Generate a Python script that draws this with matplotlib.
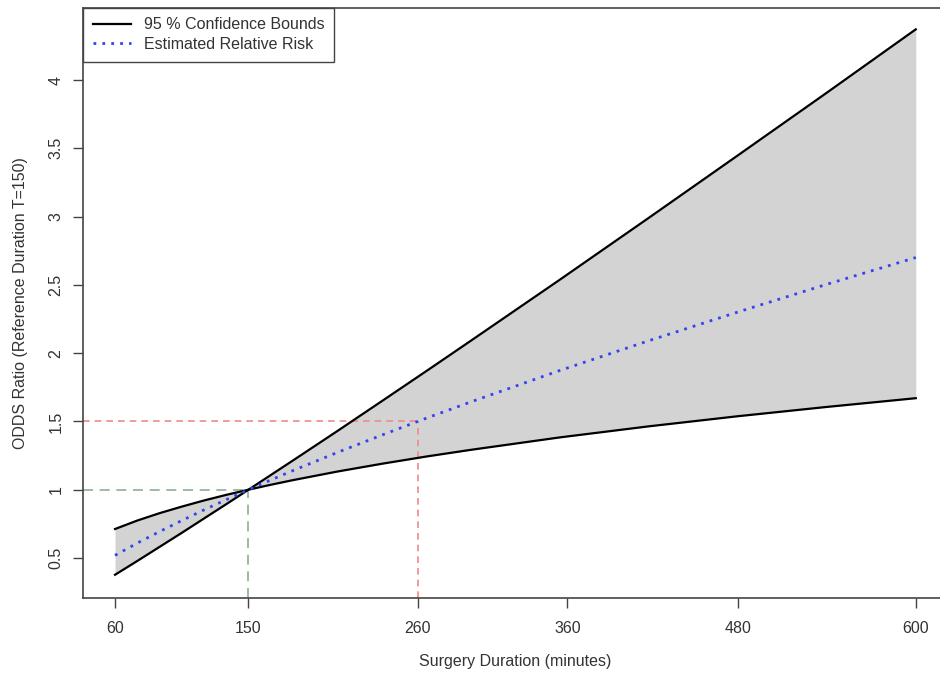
import matplotlib
matplotlib.use("Agg")
import matplotlib.pyplot as plt

plt.rcParams['font.family'] = ['Liberation Sans', 'DejaVu Sans']

# values
duration = [60, 75, 90, 105, 120, 135, 150, 165, 180, 210, 240, 270, 300, 360, 420, 480, 540, 600]
estimate = [0.519, 0.609, 0.693, 0.774, 0.852, 0.927, 1.0, 1.071, 1.140, 1.273, 1.400, 1.524,
            1.643, 1.873, 2.091, 2.301, 2.504, 2.700]
bound_a = [0.377, 0.478, 0.581, 0.684, 0.789, 0.894, 1.0, 1.107, 1.214, 1.430, 1.649, 1.869,
           2.091, 2.538, 2.991, 3.448, 3.907, 4.371]
bound_b = [0.712, 0.774, 0.828, 0.876, 0.921, 0.962, 1.0, 1.036, 1.070, 1.133, 1.190, 1.243,
           1.292, 1.383, 1.464, 1.538, 1.606, 1.670]

# tick marks sit where the reference draws them
xticks = [60, 150, 264, 365, 480, 600]
xtick_labels = ['60', '150', '260', '360', '480', '600']
yticks = [0.5, 1, 1.5, 2, 2.5, 3, 3.5, 4]
ytick_labels = ['0.5', '1', '1.5', '2', '2.5', '3', '3.5', '4']

ref_x = [150, 264]
ref_y = [1.0, 1.5]
ref_colors = ['#8fb08f', '#f08a8a']

fig = plt.figure(figsize=(9.4, 6.75), dpi=100)
ax = fig.add_axes([0.0883, 0.1147, 0.920, 0.874])

ax.fill_between(duration, bound_a, bound_b, color='#d3d3d3', linewidth=0)
ax.plot(duration, bound_a, color='black', linewidth=1.6, label='95 % Confidence Bounds')
ax.plot(duration, bound_b, color='black', linewidth=1.6)
ax.plot(duration, estimate, color='#3344ee', linewidth=2, linestyle=(0, (1, 2.2)),
        label='Estimated Relative Risk')

xlo, xhi = 38.4, 621.6
ylo, yhi = 0.21, 4.53
ax.set_xlim(xlo, xhi)
ax.set_ylim(ylo, yhi)

dash_styles = [(0, (6, 4)), (0, (4, 3))]
for x, y, c, ls in zip(ref_x, ref_y, ref_colors, dash_styles):
    ax.plot([x, x], [ylo, y], color=c, linewidth=1.2, linestyle=ls, zorder=1.5)
    ax.plot([xlo, x], [y, y], color=c, linewidth=1.2, linestyle=ls, zorder=1.5)

ax.set_xticks(xticks)
ax.set_xticklabels(xtick_labels)
ax.set_yticks(yticks)
ax.set_yticklabels(ytick_labels, rotation=90, va='center')
ax.tick_params(axis='both', labelsize=11.5, length=7, width=1, colors='#444444',
               labelcolor='#333333')
ax.tick_params(axis='x', pad=10)
ax.tick_params(axis='y', pad=7)

for s in ax.spines.values():
    s.set_color('#444444')
    s.set_linewidth(1.2)

ax.set_xlabel('Surgery Duration (minutes)', fontsize=11.5, color='#333333', labelpad=13)
ax.set_ylabel('ODDS Ratio (Reference Duration T=150)', fontsize=11.5, color='#333333',
              labelpad=15)

leg = ax.legend(loc='upper left', borderaxespad=0, fancybox=False, framealpha=1,
                edgecolor='#444444', fontsize=11.5, handlelength=2.4,
                borderpad=0.6, labelspacing=0.3)
leg.get_frame().set_linewidth(1.0)
for t in leg.get_texts():
    t.set_color('#333333')

plt.savefig('out.png', dpi=100)
